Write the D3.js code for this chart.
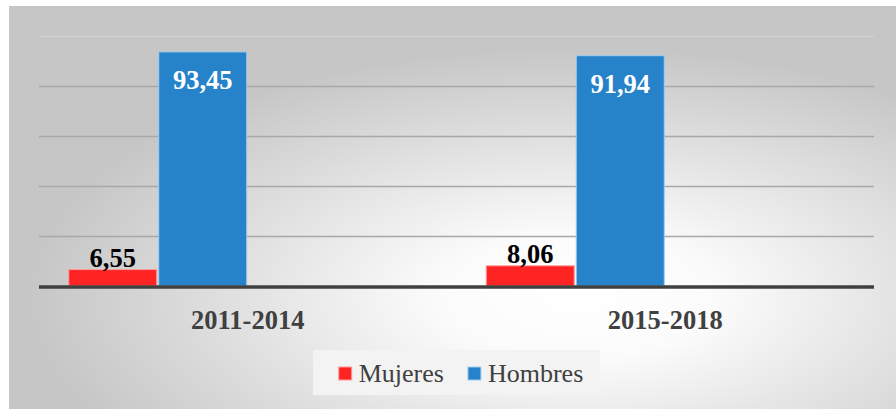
<!DOCTYPE html>
<html><head><meta charset="utf-8">
<script src="https://cdn.jsdelivr.net/npm/d3@7"></script>
<style>body{margin:0;background:#fff}svg{display:block}</style>
</head><body><svg id="c" width="896" height="409"></svg>
<script>
// ---- data ----
const categories = ["2011-2014", "2015-2018"];
const seriesNames = ["Mujeres", "Hombres"];
const mujeres = [6.55, 8.06];
const hombres = [93.45, 91.94];
const yTicks = [0, 20, 40, 60, 80, 100];
const seriesColors = ["#ff2424", "#2682c9"];
const seriesEdges = ["#ff9c9c", "#a3cdee"];

const seriesValues = [mujeres, hombres];
const fmt = v => d3.format(".2f")(v).replace(".", ",");
const FONT = "'Liberation Serif','Times New Roman',serif";

const svg = d3.select("#c");
const defs = svg.append("defs");
const grad = defs.append("radialGradient").attr("id", "bg")
  .attr("cx", 0.64).attr("cy", 0.72).attr("r", 0.62);
grad.append("stop").attr("offset", 0).attr("stop-color", "#ffffff");
grad.append("stop").attr("offset", 0.25).attr("stop-color", "#fbfbfb");
grad.append("stop").attr("offset", 1).attr("stop-color", "#c6c6c6");

svg.append("rect").attr("x", 9).attr("y", 6).attr("width", 887).attr("height", 403)
  .attr("fill", "url(#bg)");
svg.append("line").attr("x1", 9).attr("x2", 896).attr("y1", 6.5).attr("y2", 6.5)
  .attr("stroke", "#c4c4c4").attr("stroke-width", 1);

// ---- scales ----
const x0 = d3.scaleBand().domain(categories).range([39, 874])
  .paddingInner(0.1425).paddingOuter(0.07125);
// the source chart reserves room for 4 series slots per category (2 are empty)
const x1 = d3.scaleBand().domain(d3.range(4)).range([0, x0.bandwidth()]).paddingInner(0.0222);
const y = d3.scaleLinear().domain([0, 100]).range([286, 35.5]);

// ---- gridlines ----
const grid = svg.append("g");
yTicks.filter(t => t > 0).forEach(t => {
  grid.append("line")
    .attr("x1", 39).attr("x2", 874)
    .attr("y1", Math.round(y(t)) + 0.5).attr("y2", Math.round(y(t)) + 0.5)
    .attr("stroke", t === 100 ? "#d0d0d0" : "#a8a8a8").attr("stroke-width", 1.3);
});

// ---- bars ----
const bars = svg.append("g");
seriesValues.forEach((vals, si) => {
  vals.forEach((v, ci) => {
    const bx = x0(categories[ci]) + x1(si);
    bars.append("rect")
      .attr("x", bx).attr("y", y(v))
      .attr("width", x1.bandwidth()).attr("height", y(0) - y(v))
      .attr("fill", seriesColors[si])
      .attr("stroke", seriesEdges[si]).attr("stroke-width", 1);
  });
});

// ---- baseline ----
svg.append("line").attr("x1", 39).attr("x2", 874).attr("y1", 287).attr("y2", 287)
  .attr("stroke", "#404040").attr("stroke-width", 3.6);

// ---- value labels ----
const labels = svg.append("g").attr("font-family", FONT).attr("font-weight", "bold")
  .attr("font-size", 26.5).attr("text-anchor", "middle");
seriesValues.forEach((vals, si) => {
  vals.forEach((v, ci) => {
    const cx = x0(categories[ci]) + x1(si) + x1.bandwidth() / 2;
    labels.append("text")
      .attr("x", cx)
      .attr("y", si === 0 ? y(v) - 2.5 : y(v) + 37.5)
      .attr("fill", si === 0 ? "#000000" : "#ffffff")
      .text(fmt(v));
  });
});

// ---- category axis labels ----
svg.append("g").selectAll("text").data(categories).join("text")
  .attr("x", d => x0(d) + x0.bandwidth() / 2).attr("y", 329)
  .attr("text-anchor", "middle").attr("font-family", FONT).attr("font-weight", "bold")
  .attr("font-size", 26.5).attr("fill", "#404040").text(d => d);

// ---- legend ----
const lg = svg.append("g");
lg.append("rect").attr("x", 313).attr("y", 350).attr("width", 287).attr("height", 45)
  .attr("fill", "#f3f3f3");
const items = lg.append("g");
let cx = 0;
seriesNames.forEach((name, i) => {
  const g = items.append("g").attr("transform", `translate(${cx},0)`);
  g.append("rect").attr("x", 0).attr("y", 367).attr("width", 13).attr("height", 13)
    .attr("fill", seriesColors[i]).attr("stroke", seriesEdges[i]).attr("stroke-width", 1);
  const t = g.append("text").attr("x", 20).attr("y", 381.5)
    .attr("font-family", FONT).attr("font-size", 26).attr("fill", "#404040").text(name);
  cx += 20 + t.node().getComputedTextLength() + 24;
});
const totalW = cx - 24;
items.attr("transform", `translate(${461 - totalW / 2},0)`);
</script>
</body></html>
